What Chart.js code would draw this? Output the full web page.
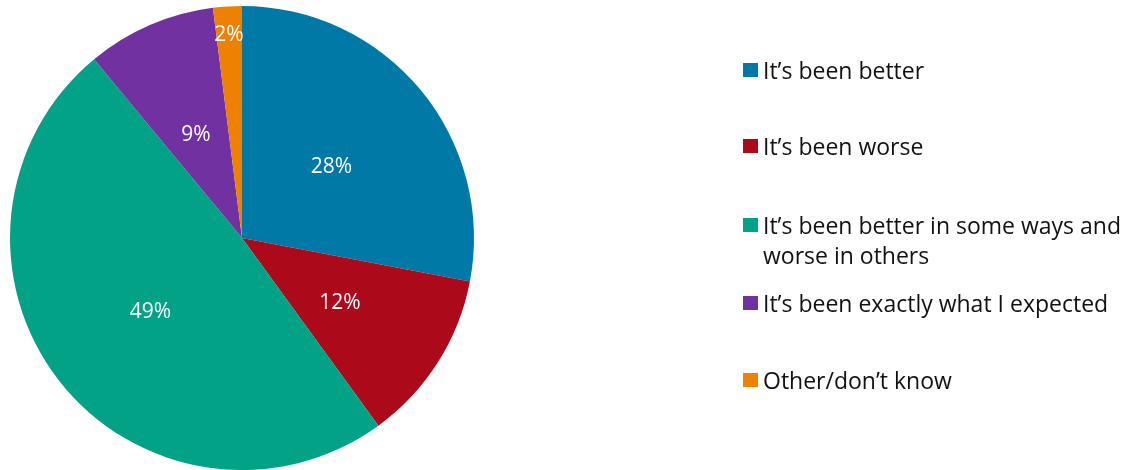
<!DOCTYPE html>
<html>
<head>
<meta charset="utf-8">
<script src="https://cdn.jsdelivr.net/npm/chart.js@4/dist/chart.umd.min.js"></script>
<style>
  html, body { margin: 0; padding: 0; background: #ffffff; }
  #wrap { width: 1145px; height: 470px; position: relative; }
</style>
</head>
<body>
<div id="wrap"><canvas id="pie"></canvas></div>
<script>
// Survey answers and their shares (percent)
const categories = [
  "It’s been better",
  "It’s been worse",
  "It’s been better in some ways and worse in others",
  "It’s been exactly what I expected",
  "Other/don’t know"
];
const shares = [28, 12, 49, 9, 2];
const sliceColors = ["#0079A7", "#AC0A1A", "#01A286", "#7131A0", "#EE8100"];
// Legend text, wrapped as it is shown next to the pie
const legendLines = [
  ["It’s been better"],
  ["It’s been worse"],
  ["It’s been better in some ways and", "worse in others"],
  ["It’s been exactly what I expected"],
  ["Other/don’t know"]
];

const FONT = "'Open Sans', Lato, sans-serif";

// White percentage labels inside each slice
const sliceLabels = {
  id: "sliceLabels",
  afterDatasetsDraw(chart) {
    const ctx = chart.ctx;
    const meta = chart.getDatasetMeta(0);
    const values = chart.data.datasets[0].data;
    ctx.save();
    ctx.fillStyle = "#ffffff";
    ctx.font = "21px " + FONT;
    ctx.textAlign = "center";
    ctx.textBaseline = "alphabetic";
    meta.data.forEach((arc, i) => {
      const p = arc.getProps(["x", "y", "startAngle", "endAngle", "outerRadius"], true);
      const mid = (p.startAngle + p.endAngle) / 2;
      const frac = values[i] < 5 ? 0.89 : 0.5;
      const r = p.outerRadius * frac;
      const x = p.x + Math.cos(mid) * r;
      const y = p.y + Math.sin(mid) * r;
      ctx.fillText(values[i] + "%", x, y + 9);
    });
    ctx.restore();
  }
};

// Legend drawn at the right with square swatches
const sideLegend = {
  id: "sideLegend",
  afterDraw(chart) {
    const ctx = chart.ctx;
    const rowTops = [63, 139, 218, 296, 373];
    const boxX = 743, box = 14, textX = 763, lineGap = 30;
    ctx.save();
    ctx.font = "23px " + FONT;
    ctx.textAlign = "left";
    ctx.textBaseline = "alphabetic";
    chart.data.labels.forEach((label, i) => {
      const top = rowTops[i];
      ctx.fillStyle = chart.data.datasets[0].backgroundColor[i];
      ctx.fillRect(boxX, top, box + 1, box);
      ctx.fillStyle = "#111111";
      legendLines[i].forEach((line, j) => {
        ctx.fillText(line, textX, top + 16 + j * lineGap);
      });
    });
    ctx.restore();
  }
};

new Chart(document.getElementById("pie"), {
  type: "pie",
  data: {
    labels: categories,
    datasets: [{
      data: shares,
      backgroundColor: sliceColors,
      borderWidth: 0
    }]
  },
  options: {
    responsive: true,
    maintainAspectRatio: false,
    animation: false,
    layout: { padding: { left: 10, right: 671, top: 6, bottom: 0 } },
    plugins: {
      legend: { display: false },
      tooltip: { enabled: false }
    }
  },
  plugins: [sliceLabels, sideLegend]
});
</script>
</body>
</html>
